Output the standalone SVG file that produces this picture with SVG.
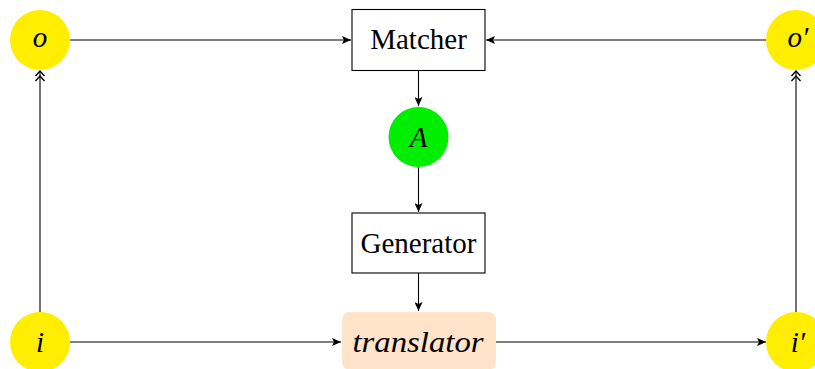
<svg xmlns="http://www.w3.org/2000/svg" width="815" height="369" viewBox="0 0 815 369">
<style>
.ln{stroke:#000;stroke-width:1.1;fill:none}
.box{fill:#fff;stroke:#000;stroke-width:1.1}
.yel{fill:#ffee00}
.chev{fill:none;stroke:#000;stroke-width:1.4}
text{font-family:'Liberation Serif',serif;font-size:29px;fill:#000;text-anchor:middle}
.it{font-style:italic}
</style>
<defs>
<marker id="ah" markerWidth="10" markerHeight="8" refX="9" refY="4" orient="auto" markerUnits="userSpaceOnUse">
<path d="M0,0 L9,4 L0,8 L2,4 Z" fill="#000"/>
</marker>
<path id="dbl" class="chev" d="M-4.5,5 L0,0 L4.5,5 M-4.5,10 L0,5 L4.5,10"/>
</defs>
<g id="connectors">
<line class="ln" x1="70" y1="40" x2="351" y2="40" marker-end="url(#ah)"/>
<line class="ln" x1="766" y1="40" x2="486" y2="40" marker-end="url(#ah)"/>
<line class="ln" x1="418.5" y1="70" x2="418.5" y2="106" marker-end="url(#ah)"/>
<line class="ln" x1="418.5" y1="167" x2="418.5" y2="212" marker-end="url(#ah)"/>
<line class="ln" x1="418.5" y1="273" x2="418.5" y2="311" marker-end="url(#ah)"/>
<line class="ln" x1="70" y1="342" x2="341" y2="342" marker-end="url(#ah)"/>
<line class="ln" x1="496" y1="342" x2="766" y2="342" marker-end="url(#ah)"/>
<line class="ln" x1="40" y1="312" x2="40" y2="71"/>
<use href="#dbl" x="40" y="71"/>
<line class="ln" x1="796" y1="312" x2="796" y2="71"/>
<use href="#dbl" x="796" y="71"/>
</g>
<g id="o"><circle class="yel" cx="40" cy="40" r="30"/><text class="it" x="40" y="47">o</text></g>
<g id="o-prime"><circle class="yel" cx="796" cy="40" r="30"/><text class="it" x="798" y="47">o′</text></g>
<g id="i"><circle class="yel" cx="40" cy="342" r="30"/><text class="it" x="40" y="352">i</text></g>
<g id="i-prime"><circle class="yel" cx="796" cy="342" r="30"/><text class="it" x="798" y="352">i′</text></g>
<g id="matcher"><rect class="box" x="352" y="9.5" width="133" height="61"/><text x="418.5" y="49">Matcher</text></g>
<g id="A"><circle cx="418.5" cy="137" r="30" fill="#00ee00"/><text class="it" x="418.5" y="147">A</text></g>
<g id="generator"><rect class="box" x="352" y="213" width="133" height="60"/><text x="418.5" y="253">Generator</text></g>
<g id="translator"><rect x="342" y="312" width="154" height="58" rx="8" fill="#ffe4c9"/><text class="it" x="418" y="352" textLength="131" lengthAdjust="spacingAndGlyphs">translator</text></g>
</svg>
